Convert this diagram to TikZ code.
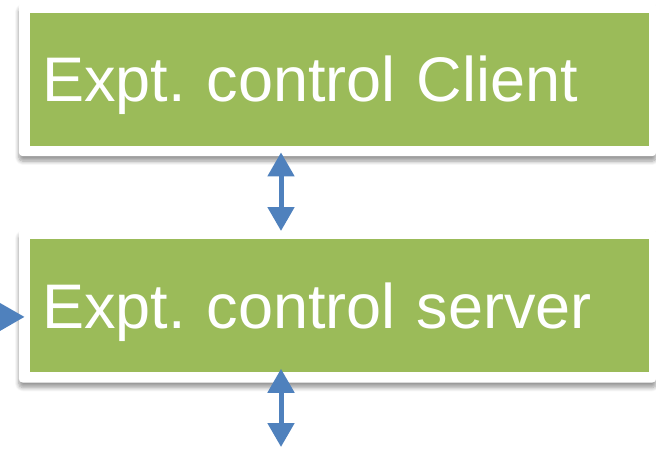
\documentclass[tikz,border=0pt]{standalone}
\usepackage{fontspec}
\newfontfamily\boxfont{Liberation Sans}
\usepackage{xcolor}
\usetikzlibrary{positioning,arrows.meta,fit,backgrounds,shadows.blur}
\definecolor{boxgreen}{HTML}{9BBB59}
\definecolor{linkblue}{HTML}{4F81BD}
\frenchspacing

\begin{document}
\begin{tikzpicture}[x=1pt, y=-1pt,
    block/.style={fill=boxgreen, minimum width=619pt, minimum height=133pt,
      inner xsep=12pt, text width=595pt, align=left, text=white,
      font=\boxfont\fontsize{63}{70}\selectfont, text height=45pt, text depth=0pt},
    frame/.style={fill=white, rounded corners=4pt, inner xsep=9pt, inner ysep=10pt,
      xshift=-2pt, blur shadow={shadow xshift=0pt, shadow yshift=-5pt,
      shadow blur steps=8, shadow blur radius=4pt, shadow opacity=40}},
    link/.style={draw=linkblue, line width=5pt,
      {Triangle[width=26pt,length=24pt]}-{Triangle[width=26pt,length=24pt]}},
    feed/.style={draw=linkblue, line width=5pt, -{Triangle[width=27pt,length=25pt]}}
  ]
  \useasboundingbox (0,0) rectangle (656,452);
  \clip (0,0) rectangle (656,452);
  % the two boxes
  \node[block] (client) at (339.5,79.5) {Expt. control Client};
  \node[block, below=93pt of client] (server) {Expt. control server};
  \begin{scope}[on background layer]
    \node[frame, fit=(client)] (clientframe) {};
    \node[frame, fit=(server)] (serverframe) {};
  \end{scope}
  % links
  \coordinate (input) at (-30,317);
  \coordinate (output) at (281,447);
  \draw[link] ([xshift=-56.5pt, yshift=4pt]clientframe.south)
    -- ([xshift=-56.5pt, yshift=-2pt]serverframe.north);
  \draw[link] ([xshift=-56.5pt, yshift=14pt]serverframe.south) -- (output);
  \draw[feed] (input) -- ([xshift=6pt, yshift=-11pt]serverframe.west);
\end{tikzpicture}
\end{document}
